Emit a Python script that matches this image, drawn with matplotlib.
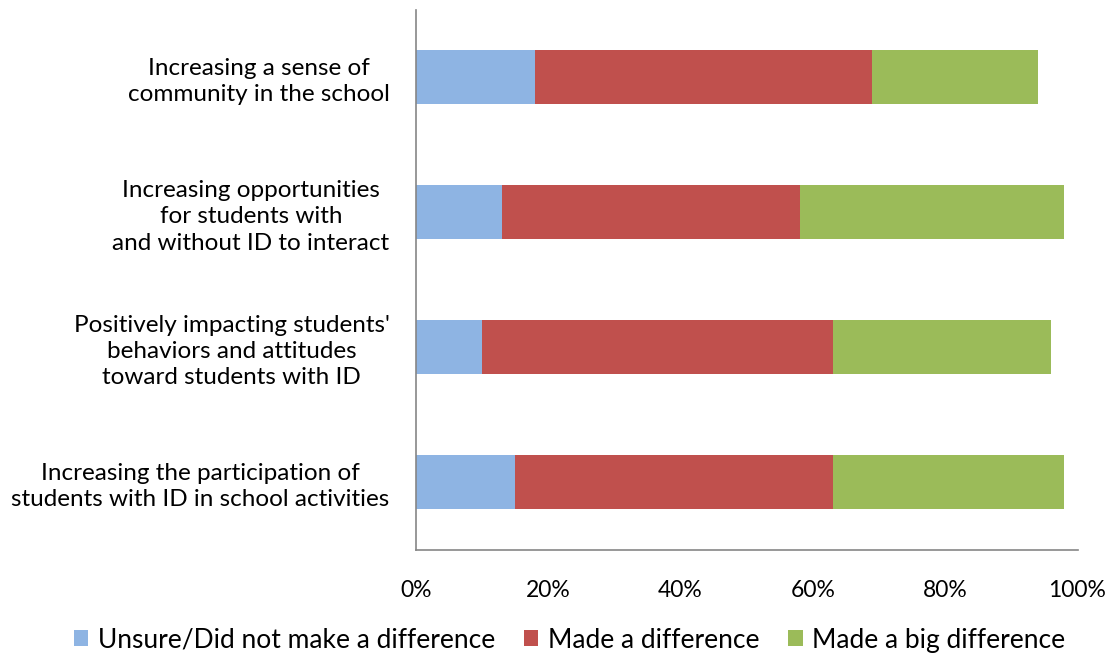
import matplotlib.pyplot as plt
from matplotlib.ticker import FuncFormatter

plt.rcParams["font.family"] = ["Lato", "DejaVu Sans"]

categories = [
    "Increasing a sense of\ncommunity in the school",
    "Increasing opportunities\nfor students with\nand without ID to interact",
    "Positively impacting students'\nbehaviors and attitudes\ntoward students with ID",
    "Increasing the participation of\nstudents with ID in school activities",
]
series_names = ["Unsure/Did not make a difference", "Made a difference", "Made a big difference"]
unsure = [0.18, 0.13, 0.10, 0.15]
made = [0.51, 0.45, 0.53, 0.48]
big = [0.25, 0.40, 0.33, 0.35]
colors = ["#8EB4E3", "#C0504D", "#9BBB59"]

fig = plt.figure(figsize=(11.12, 6.6), dpi=100)
ax = fig.add_axes([0.374, 0.167, 0.595, 0.818])

ypos = list(range(len(categories)))
left = [0.0] * len(categories)
for vals, name, col in zip([unsure, made, big], series_names, colors):
    ax.barh(ypos, vals, left=left, height=0.4, color=col, label=name)
    left = [l + v for l, v in zip(left, vals)]

ax.set_ylim(3.5, -0.5)
ax.set_xlim(0, 1)
ax.set_yticks(ypos)
ax.set_yticklabels(categories, fontsize=17.5, ha="right", multialignment="center",
                   linespacing=1.3)
ax.tick_params(axis="y", length=0, pad=19)
ax.set_xticks([0, 0.2, 0.4, 0.6, 0.8, 1.0])
ax.xaxis.set_major_formatter(FuncFormatter(lambda v, _: f"{v:.0%}"))
ax.tick_params(axis="x", length=0, pad=22, labelsize=16.5)

for s in ["top", "right"]:
    ax.spines[s].set_visible(False)
for s in ["left", "bottom"]:
    ax.spines[s].set_color("#868686")
    ax.spines[s].set_linewidth(1.2)

ax.legend(loc="center", bbox_to_anchor=(0.512, 0.03), bbox_transform=fig.transFigure,
          ncol=3, frameon=False, fontsize=19, handlelength=0.55, handleheight=0.55,
          handletextpad=0.35, columnspacing=1.1)

fig.savefig("out.png", dpi=100)
